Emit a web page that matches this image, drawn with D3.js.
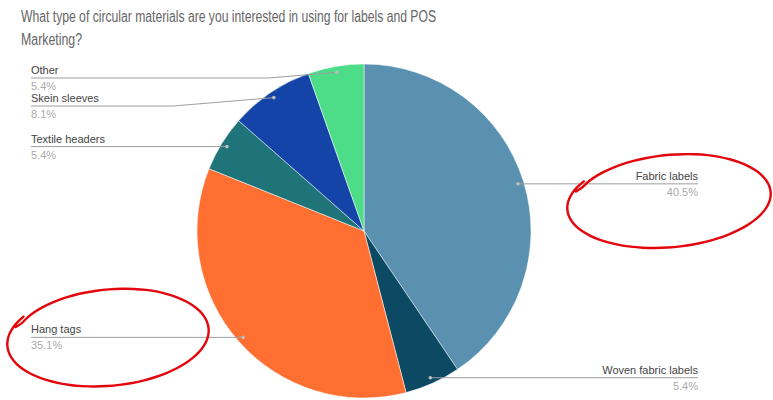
<!DOCTYPE html>
<html>
<head>
<meta charset="utf-8">
<script src="https://cdn.jsdelivr.net/npm/d3@7"></script>
<style>
	html, body { margin: 0; padding: 0; background: #fff; }
	svg { display: block; font-family: "Liberation Sans", Arial, sans-serif; }
</style>
</head>
<body>
<div id="chart"></div>
<script>
// chart data (survey answers, 37 responses)
const categories = ["Fabric labels", "Woven fabric labels", "Hang tags", "Textile headers", "Skein sleeves", "Other"];
const responses = [15, 2, 13, 2, 3, 2];
const sliceColors = ["#5a91b0", "#0c4a64", "#ff6f31", "#1f7479", "#1444a8", "#4ddc88"];
const titleLines = ["What type of circular materials are you interested in using for labels and POS", "Marketing?"];
// categories circled by hand in the screenshot
const circled = ["Fabric labels", "Hang tags"];

const WIDTH = 773;
const HEIGHT = 400;
const CENTER = [364, 231];
const RADIUS = 167;
const LEFT_X = 31;
const RIGHT_X = 698;
const LABEL_GAP = 28;
const LABEL_TOP = 78;

var svg = d3.select("#chart").append("svg")
	.attr("width", WIDTH)
	.attr("height", HEIGHT);

// title, the screenshot is squeezed horizontally so force the text width
var titleWidths = [415, 61];
titleLines.forEach(function(line, i) {
	svg.append("text")
		.attr("x", 21)
		.attr("y", 22 + i * 23)
		.attr("font-size", 16)
		.attr("fill", "#666")
		.attr("textLength", titleWidths[i])
		.attr("lengthAdjust", "spacingAndGlyphs")
		.text(line);
});

var total = d3.sum(responses);
var pct = d3.format(".1%");
var data = categories.map(function(c, i) {
	return {label: c, value: responses[i], color: sliceColors[i]};
});

var pie = d3.pie().sort(null).value(function(d) { return d.value; });
var arcs = pie(data);

var arc = d3.arc().innerRadius(0).outerRadius(RADIUS);
var dotArc = d3.arc().innerRadius(RADIUS - 6).outerRadius(RADIUS - 6);

var g = svg.append("g").attr("transform", "translate(" + CENTER + ")");

g.selectAll("path.slice")
	.data(arcs)
	.enter().append("path")
	.attr("class", "slice")
	.attr("d", arc)
	.attr("fill", function(d) { return d.data.color; })
	.attr("stroke", "#fff")
	.attr("stroke-width", 0.5);

// label layout
var labels = arcs.map(function(d) {
	var c = dotArc.centroid(d);
	var mid = (d.startAngle + d.endAngle) / 2;
	return {
		d: d,
		dotX: CENTER[0] + c[0],
		dotY: CENTER[1] + c[1],
		right: mid < Math.PI,
		y: CENTER[1] + c[1]
	};
});

// push left-side labels apart so they do not overlap
var left = labels.filter(function(l) { return !l.right; })
	.sort(function(a, b) { return a.dotY - b.dotY; });
var prev = -Infinity;
left.forEach(function(l) {
	l.y = Math.max(l.y, LABEL_TOP, prev + LABEL_GAP);
	prev = l.y;
});

var lineGen = d3.line();

labels.forEach(function(l) {
	var x = l.right ? RIGHT_X : LEFT_X;
	var dy = Math.abs(l.y - l.dotY);
	var elbowX = l.right ? l.dotX + Math.max(30, 12 * dy) : l.dotX - Math.max(30, 12 * dy);
	var pts = dy < 0.5 ? [[l.dotX, l.dotY], [x, l.y]] : [[l.dotX, l.dotY], [elbowX, l.y], [x, l.y]];

	svg.append("path")
		.attr("d", lineGen(pts))
		.attr("fill", "none")
		.attr("stroke", "#9e9e9e")
		.attr("stroke-width", 1);

	svg.append("circle")
		.attr("cx", l.dotX)
		.attr("cy", l.dotY)
		.attr("r", 1.8)
		.attr("fill", "#bdbdbd");

	var anchor = l.right ? "end" : "start";
	svg.append("text")
		.attr("x", x)
		.attr("y", l.y - 4)
		.attr("text-anchor", anchor)
		.attr("font-size", 11)
		.attr("fill", "#444")
		.text(l.d.data.label);

	svg.append("text")
		.attr("x", x)
		.attr("y", l.y + 12)
		.attr("text-anchor", anchor)
		.attr("font-size", 11)
		.attr("fill", "#aaa")
		.text(pct(l.d.data.value / total));

	l.x = x;
});

/**
 * Draws a loose hand-made ellipse round a label
 * @param {Number} cx center x
 * @param {Number} cy center y
 * @param {Number} rx horizontal radius
 * @param {Number} ry vertical radius
 */
function scribble(cx, cy, rx, ry) {
	var rot = -5 * Math.PI / 180;
	var start = -2.65;
	var pts = d3.range(0, 1.04, 0.02).map(function(t) {
		var a = start + t * Math.PI * 2;
		var grow = 0.96 + 0.05 * Math.min(1, t * 4);
		var px = Math.cos(a) * rx * grow;
		var py = Math.sin(a) * ry * grow;
		return [cx + px * Math.cos(rot) - py * Math.sin(rot), cy + px * Math.sin(rot) + py * Math.cos(rot)];
	});
	// small hook at the start of the stroke
	pts.unshift([pts[0][0] - 6, pts[0][1] + 4]);
	svg.append("path")
		.attr("d", d3.line().curve(d3.curveCatmullRom)(pts))
		.attr("fill", "none")
		.attr("stroke", "#e3060c")
		.attr("stroke-width", 2.4)
		.attr("stroke-linecap", "round")
		.attr("stroke-linejoin", "round");
}

labels.filter(function(l) { return circled.indexOf(l.d.data.label) >= 0; })
	.forEach(function(l) {
		if (l.right) {
			scribble(l.x - 29, l.y + 17, 101, 46);
		} else {
			scribble(l.x + 77, l.y, 100, 48);
		}
	});
</script>
</body>
</html>
